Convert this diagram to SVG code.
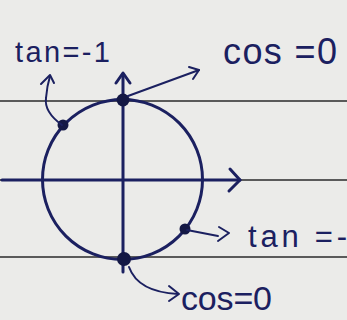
<svg xmlns="http://www.w3.org/2000/svg" width="347" height="320" viewBox="0 0 347 320">
<defs>
<style>
.rule{stroke:#5a5a5a;stroke-width:2;fill:none}
.ink{stroke:#1b2060;stroke-width:3;fill:none;stroke-linecap:round;stroke-linejoin:round}
.thin{stroke:#1b2060;stroke-width:2;fill:none;stroke-linecap:round;stroke-linejoin:round}
.dot{fill:#141845}
.lbl{font-family:"Liberation Sans",Arial,sans-serif;fill:#1b2060}
</style>
</defs>
<rect width="347" height="320" fill="#ebebe9"/>
<g id="ruled-lines">
<line class="rule" x1="0" y1="101" x2="347" y2="101"/>
<line class="rule" x1="0" y1="180" x2="347" y2="180"/>
<line class="rule" x1="0" y1="257" x2="347" y2="257"/>
</g>
<g id="axes">
<line class="ink" x1="2" y1="180" x2="240" y2="180"/>
<polyline class="ink" points="230,169 240,180 229,191"/>
<line class="ink" x1="123" y1="74" x2="123" y2="272" stroke="#22307a"/>
<polyline class="ink" points="116,83 123,73 130,83"/>
</g>
<g id="circle">
<circle class="ink" cx="122.5" cy="179.5" r="80"/>
</g>
<g id="points">
<circle class="dot" cx="123" cy="100" r="6.5"/>
<circle class="dot" cx="63" cy="125" r="5.5"/>
<circle class="dot" cx="185" cy="229" r="5.5"/>
<circle class="dot" cx="124" cy="259" r="7"/>
</g>
<g id="connectors">
<path class="thin" d="M62,125 Q44,112 46,98 Q47,86 50,76"/>
<polyline class="thin" points="41,84 50,75 54,83"/>
<line class="thin" x1="128" y1="96" x2="199" y2="70"/>
<polyline class="thin" points="189,67 199,70 193,79"/>
<line class="thin" x1="187" y1="230" x2="218" y2="236"/>
<polyline class="thin" points="219,227 229,233 218,241"/>
<path class="thin" d="M129,267 Q138,292 178,294"/>
<polyline class="thin" points="169,286 179,294 169,301"/>
</g>
<g id="labels">
<text class="lbl" x="15" y="62" font-size="29" textLength="95" lengthAdjust="spacing">tan=-1</text>
<text class="lbl" x="223" y="64" font-size="36" textLength="114" lengthAdjust="spacing">cos =0</text>
<text class="lbl" x="248" y="247" font-size="31" textLength="99" lengthAdjust="spacing">tan =-</text>
<text class="lbl" x="181" y="310" font-size="34" textLength="91" lengthAdjust="spacing">cos=0</text>
</g>
</svg>
